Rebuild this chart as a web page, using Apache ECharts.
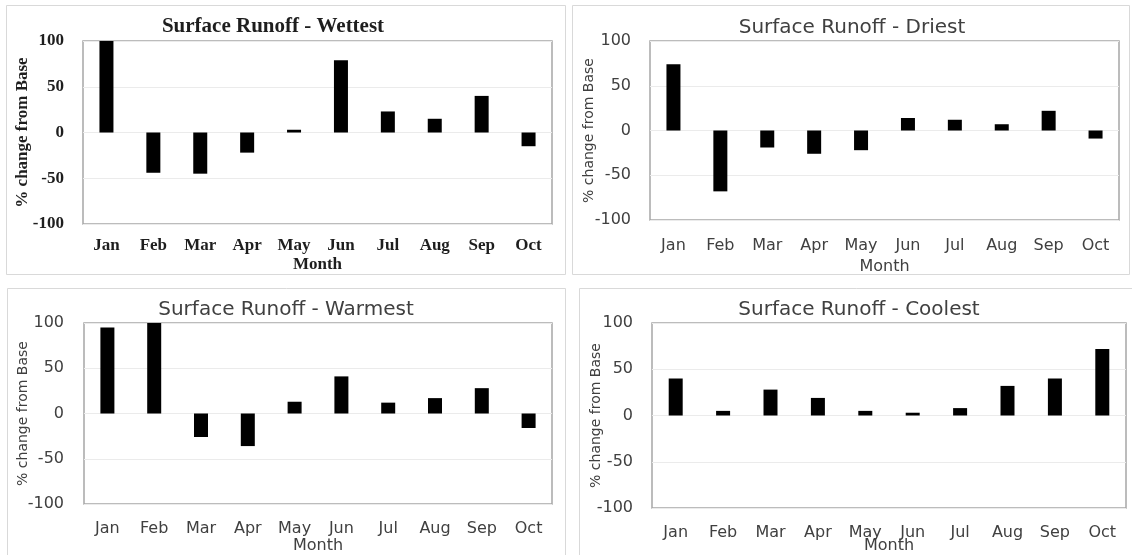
<!DOCTYPE html>
<html>
<head>
<meta charset="utf-8">
<style>
html,body{margin:0;padding:0;background:#fff;}
#chart{width:1132px;height:555px;}
</style>
<script src="https://cdn.jsdelivr.net/npm/echarts@6/dist/echarts.min.js"></script>
</head>
<body>
<div id="chart"></div>
<script>
// ---- data ----
const months = ['Jan','Feb','Mar','Apr','May','Jun','Jul','Aug','Sep','Oct'];
const wettest = [100,-44,-45,-22,3,79,23,15,40,-15];
const driest  = [74,-68,-19,-26,-22,14,12,7,22,-9];
const warmest = [95,100,-26,-36,13,41,12,17,28,-16];
const coolest = [40,5,28,19,5,3,8,32,40,72];
const panelTitles = ['Surface Runoff - Wettest','Surface Runoff - Driest','Surface Runoff - Warmest','Surface Runoff - Coolest'];
const yMin = -100, yMax = 100, yStep = 50;
const yAxisName = '% change from Base';
const xAxisName = 'Month';

// ---- layout / style ----
const seriesData = [wettest, driest, warmest, coolest];
const SERIF = '"Liberation Serif","Times New Roman",serif';
const SANS = '"DejaVu Sans",sans-serif';
const panels = [
  {grid:{left:83,top:41,width:469,height:183}, font:SERIF, weight:'bold', color:'#1e1e1e', titleX:268, titleY:11, titleSize:21, tick:17, nameSize:17, nameGap:52, xMargin:13, xNameGap:32, yMargin:19},
  {grid:{left:650,top:41,width:469,height:179}, font:SANS, weight:'normal', color:'#404040', titleX:847, titleY:13, titleSize:20, tick:16, nameSize:14, nameGap:54, xMargin:18, xNameGap:39, yMargin:19},
  {grid:{left:84,top:323,width:468,height:182}, font:SANS, weight:'normal', color:'#404040', titleX:281, titleY:295, titleSize:20, tick:16, nameSize:14, nameGap:54, xMargin:17, xNameGap:34, yMargin:20},
  {grid:{left:652,top:323,width:474,height:186}, font:SANS, weight:'normal', color:'#404040', titleX:854, titleY:295, titleSize:20, tick:16, nameSize:14, nameGap:49, xMargin:17, xNameGap:30, yMargin:19}
];

const option = {
  animation:false,
  backgroundColor:'#fff',
  title: panels.map((p,i)=>({
    text: panelTitles[i], left: p.titleX, top: p.titleY, textAlign:'center',
    textStyle:{fontFamily:p.font, fontWeight:p.weight, fontSize:p.titleSize, color:p.color}
  })),
  graphic: [
    {type:'rect', shape:{x:6.5,y:5.5,width:559,height:269}, style:{fill:'none',stroke:'#d9d9d9',lineWidth:1}},
    {type:'rect', shape:{x:572.5,y:5.5,width:557,height:269}, style:{fill:'none',stroke:'#d9d9d9',lineWidth:1}},
    {type:'rect', shape:{x:7.5,y:288.5,width:558,height:280}, style:{fill:'none',stroke:'#d9d9d9',lineWidth:1}},
    {type:'rect', shape:{x:579.5,y:288.5,width:560,height:280}, style:{fill:'none',stroke:'#d9d9d9',lineWidth:1}}
  ],
  grid: panels.map(p=>Object.assign({show:true, borderColor:'#a6a6a6', borderWidth:1.5, backgroundColor:'transparent'}, p.grid)),
  xAxis: panels.map((p,i)=>({
    type:'category', gridIndex:i, data:months,
    name:xAxisName, nameLocation:'middle', nameGap:p.xNameGap, nameMoveOverlap:false,
    nameTextStyle:{fontFamily:p.font, fontWeight:p.weight, fontSize:p.tick, color:p.color},
    axisLine:{show:false}, axisTick:{show:false},
    axisLabel:{fontFamily:p.font, fontWeight:p.weight, fontSize:p.tick, color:p.color, margin:p.xMargin, interval:0},
    splitLine:{show:false}
  })),
  yAxis: panels.map((p,i)=>({
    type:'value', gridIndex:i, min:yMin, max:yMax, interval:yStep,
    name:yAxisName, nameLocation:'middle', nameGap:p.nameGap, nameRotate:90, nameMoveOverlap:false,
    nameTextStyle:{fontFamily:p.font, fontWeight:p.weight, fontSize:p.nameSize, color:p.color},
    axisLine:{show:false}, axisTick:{show:false},
    axisLabel:{fontFamily:p.font, fontWeight:p.weight, fontSize:p.tick, color:p.color, margin:p.yMargin},
    splitLine:{show:true, lineStyle:{color:'#ebebeb', width:1}}
  })),
  series: seriesData.map((d,i)=>({
    type:'bar', xAxisIndex:i, yAxisIndex:i, data:d, barWidth:14,
    itemStyle:{color:'#000'}
  }))
};
echarts.init(document.getElementById('chart'), null, {renderer:'canvas'}).setOption(option);
</script>
</body>
</html>
